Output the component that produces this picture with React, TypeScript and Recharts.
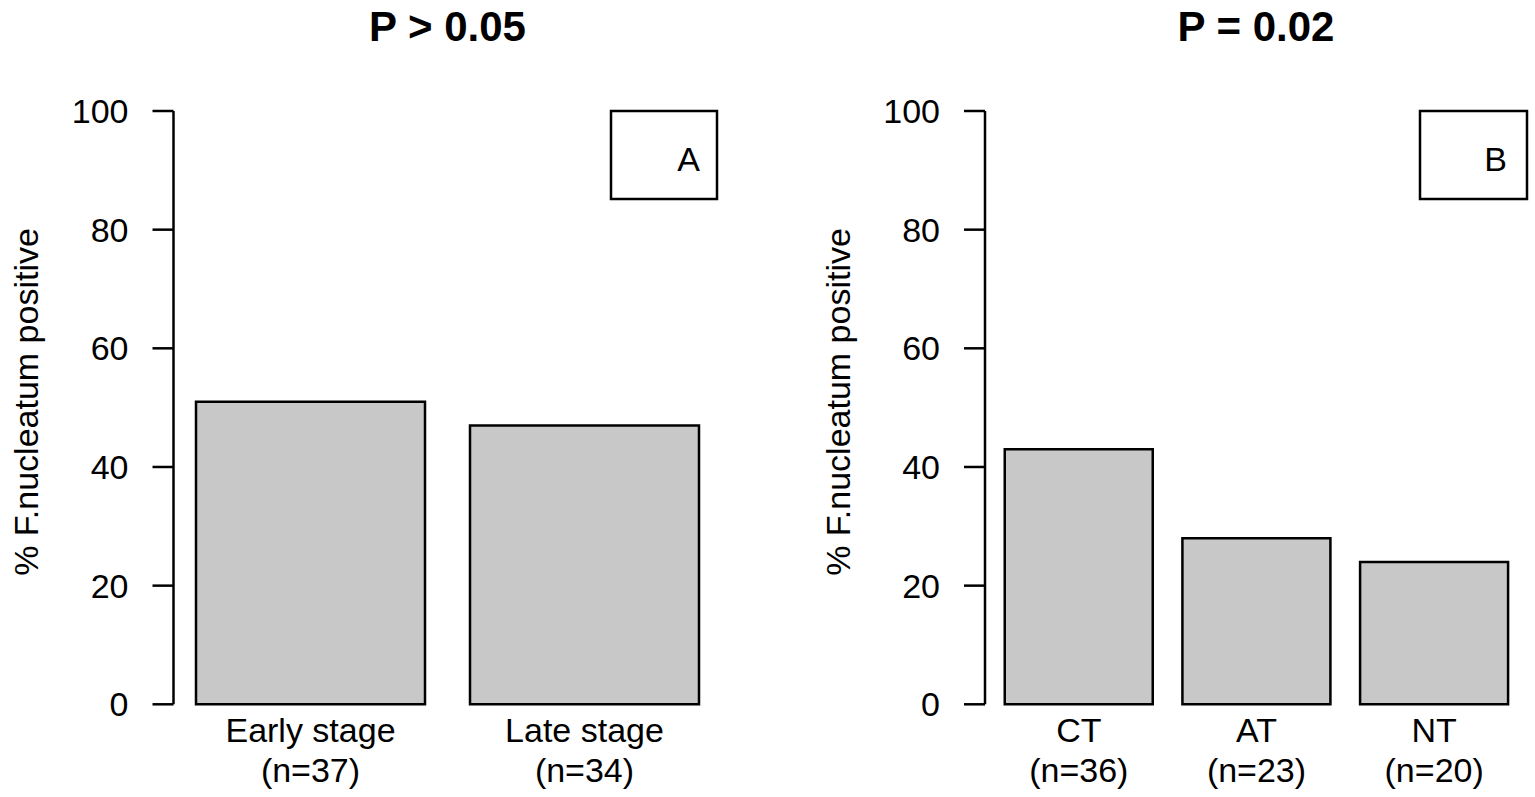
import React from "react";
import { BarChart, Bar, XAxis, YAxis } from "recharts";

const stageLabels = ["Early stage", "Late stage"];
const stageN = [37, 34];
const stagePositive = [51, 47];

const tissueLabels = ["CT", "AT", "NT"];
const tissueN = [36, 23, 20];
const tissuePositive = [43, 28, 24];

const yTicks = [0, 20, 40, 60, 80, 100];

const FONT = "'Liberation Sans', Arial, sans-serif";

const stageData = stageLabels.map((label, i) => ({ label, n: stageN[i], value: stagePositive[i] }));
const tissueData = tissueLabels.map((label, i) => ({ label, n: tissueN[i], value: tissuePositive[i] }));

function makeTick(labels: string[], ns: number[]) {
  return function TwoLineTick(props: any) {
    const { x, y, payload } = props;
    const i = labels.indexOf(payload.value);
    return (
      <g>
        <text x={x} y={y + 38} textAnchor="middle" fontSize={34} fontFamily={FONT} fill="#000">
          {payload.value}
        </text>
        <text x={x} y={y + 78} textAnchor="middle" fontSize={34} fontFamily={FONT} fill="#000">
          {`(n=${ns[i]})`}
        </text>
      </g>
    );
  };
}

type PanelProps = {
  data: { label: string; n: number; value: number }[];
  labels: string[];
  ns: number[];
  width: number;
  axisWidth: number;
  marginRight: number;
  padLeft: number;
  gap: number;
  title: string;
  titleX: number;
  box: { x: number; w: number; letter: string; letterX: number };
  yLabelX: number;
};

function Panel(p: PanelProps) {
  return (
    <BarChart
      width={p.width}
      height={797}
      data={p.data}
      margin={{ top: 111, right: p.marginRight, bottom: 0, left: 0 }}
      barCategoryGap={p.gap}
    >
      <text x={p.titleX} y={41} textAnchor="middle" fontSize={42} fontWeight="bold" fontFamily={FONT} fill="#000">
        {p.title}
      </text>
      <rect x={p.box.x} y={111} width={p.box.w} height={88} fill="#fff" stroke="#000" strokeWidth={2.5} />
      <text x={p.box.letterX} y={171} textAnchor="end" fontSize={34} fontFamily={FONT} fill="#000">
        {p.box.letter}
      </text>
      <text
        x={p.yLabelX}
        y={402}
        textAnchor="middle"
        dominantBaseline="central"
        transform={`rotate(-90 ${p.yLabelX} 402)`}
        fontSize={34}
        fontFamily={FONT}
        fill="#000"
      >
        % F.nucleatum positive
      </text>
      <XAxis
        dataKey="label"
        height={92.7}
        axisLine={false}
        tickLine={false}
        tickSize={0}
        tickMargin={0}
        padding={{ left: p.padLeft, right: 0 }}
        interval={0}
        tick={makeTick(p.labels, p.ns)}
      />
      <YAxis
        width={p.axisWidth}
        domain={[0, 100]}
        ticks={yTicks}
        interval={0}
        tickSize={21}
        tickMargin={24}
        axisLine={{ stroke: "#000", strokeWidth: 2.5 }}
        tickLine={{ stroke: "#000", strokeWidth: 2.5 }}
        tick={{ fontSize: 34, fontFamily: FONT, fill: "#000" }}
      />
      <Bar dataKey="value" fill="#c8c8c8" stroke="#000" strokeWidth={2.5} isAnimationActive={false} />
    </BarChart>
  );
}

export default function App() {
  return (
    <div style={{ position: "absolute", left: 0, top: 0, width: 1535, height: 797, background: "#fff" }}>
      <div style={{ position: "absolute", left: 0, top: 0 }}>
        <Panel
          data={stageData}
          labels={stageLabels}
          ns={stageN}
          width={770}
          axisWidth={173.5}
          marginRight={48.5}
          padLeft={0}
          gap={22.5}
          title="P > 0.05"
          titleX={447.5}
          box={{ x: 611, w: 106, letter: "A", letterX: 700 }}
          yLabelX={25.5}
        />
      </div>
      <div style={{ position: "absolute", left: 770, top: 0 }}>
        <Panel
          data={tissueData}
          labels={tissueLabels}
          ns={tissueN}
          width={765}
          axisWidth={215}
          marginRight={12}
          padLeft={5}
          gap={14.75}
          title="P = 0.02"
          titleX={486}
          box={{ x: 650, w: 107, letter: "B", letterX: 737 }}
          yLabelX={68}
        />
      </div>
    </div>
  );
}
